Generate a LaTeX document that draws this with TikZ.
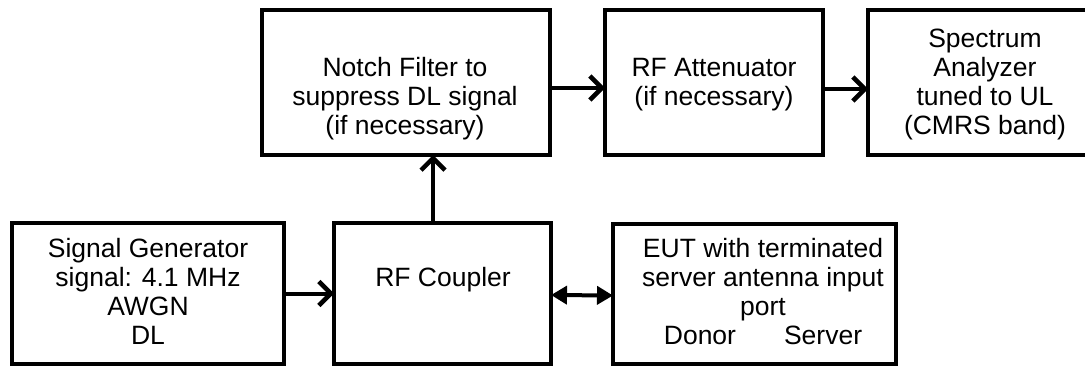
\documentclass[tikz,border=0pt]{standalone}
\usepackage{fontspec}
\setmainfont{Liberation Sans}
\usetikzlibrary{arrows.meta}
\begin{document}
\begin{tikzpicture}[x=1pt,y=-1pt,
  box/.style={draw=black, line width=4pt, rectangle, inner sep=0pt, outer sep=0pt},
  txt/.style={anchor=north, inner sep=0pt, align=center, font=\fontsize{26.5}{29}\selectfont},
  conn/.style={line width=4pt},
  barb/.style={conn, -{Straight Barb[length=12pt, width=24pt, line width=4.5pt]}},
  both/.style={conn, {Triangle[length=16pt, width=18pt]}-{Triangle[length=16pt, width=18pt]}}]
\useasboundingbox (0,0) rectangle (1085,369);
\fill[white] (0,0) rectangle (1085,369);
% boxes
\node[box, minimum width=272pt, minimum height=141pt] (sg) at (148,293.5) {};
\node[box, minimum width=217pt, minimum height=141pt] (cp) at (442.5,293.5) {};
\node[box, minimum width=283pt, minimum height=140pt] (eut) at (754.5,294) {};
\node[box, minimum width=288pt, minimum height=145pt] (nf) at (406,82.5) {};
\node[box, minimum width=218pt, minimum height=145pt] (at) at (714,82.5) {};
\node[box, minimum width=234pt, minimum height=145pt] (sa) at (985,82.5) {};
% texts
\node[txt] (sgt) at (148,236.7) {\strut Signal Generator\\signal: 4.1 MHz\\AWGN\\DL};
\node[txt] (cpt) at (443,236.7) {\strut\\RF Coupler};
\node[txt] (eutt) at (763,236.7) {\strut EUT with terminated\\server antenna input\\port\\Donor\hspace{48pt}Server};
\node[txt] (nft) at (405,26.7) {\strut\\Notch Filter to\\suppress DL signal\\(if necessary)};
\node[txt] (att) at (714,26.7) {\strut\\RF Attenuator\\(if necessary)};
\node[txt] (sat) at (985,26.7) {\strut Spectrum\\Analyzer\\tuned to UL\\(CMRS band)};
% connectors
\draw[barb] (sg.east) -- (cp.west);
\draw[barb] ([xshift=-9.5pt]cp.north) -- ([xshift=-9.5pt]cp.north |- nf.south);
\draw[barb] ([yshift=-5.5pt]nf.east) -- ([yshift=-5.5pt]at.west);
\draw[barb] ([yshift=-6.5pt]at.east) -- ([yshift=-6.5pt]sa.west);
\draw[both] ([yshift=-1.5pt]cp.east) -- ([yshift=-1.5pt]eut.west);
\end{tikzpicture}
\end{document}
